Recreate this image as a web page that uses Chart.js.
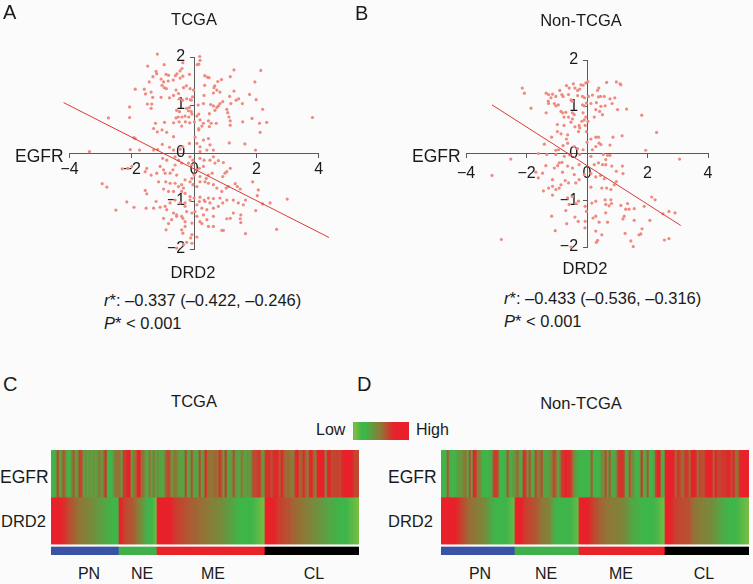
<!DOCTYPE html>
<html>
<head>
<meta charset="utf-8">
<title>DRD2 and EGFR</title>
<script src="https://cdn.jsdelivr.net/npm/chart.js@4"></script>
<style>
html, body { margin: 0; padding: 0; background: #fbfbfb; }
#page { position: relative; width: 753px; height: 584px; overflow: hidden; font-family: "Liberation Sans", Arial, sans-serif; color: #1a1a1a; }
#page canvas { position: absolute; }
.txt { position: absolute; white-space: nowrap; font-size: 16.5px; line-height: 18px; }
</style>
</head>
<body>
<div id="page">
  <canvas id="scatter-tcga" style="left:0;top:0;width:376px;height:280px"></canvas>
  <canvas id="scatter-non" style="left:376px;top:0;width:377px;height:280px"></canvas>
  <canvas id="heat-tcga" style="left:51px;top:450px;width:308px;height:105px"></canvas>
  <canvas id="heat-non" style="left:441px;top:450px;width:308px;height:105px"></canvas>
  <canvas id="heat-legend" style="left:353px;top:422px;width:56px;height:18px"></canvas>
</div>
<script>
// panel A, EGFR (x) and DRD2 (y)
var tcgaEgfr = [-1.18,-0.83,0.18,0.19,0.15,0.10,-0.96,-1.49,-0.36,-0.39,-0.45,-1.22,-1.20,-0.90,-0.82,-0.55,-0.60,-0.15,-1.32,-1.44,-1.06,-0.98,-0.83,-0.67,-0.45,-0.36,0.34,0.43,0.48,1.28,1.16,0.88,0.76,2.14,1.95,0.64,0.66,0.34,-1.89,-1.60,-1.56,-1.38,-1.03,-0.89,-0.96,-0.58,-0.50,-0.34,-0.25,-0.13,-0.02,0.32,0.62,0.73,0.83,1.28,1.14,0.92,0.83,1.78,1.99,-1.33,-1.06,-0.79,-0.66,-0.47,-0.37,-0.24,-0.12,-0.05,-1.50,-1.36,-1.38,-2.07,0.13,0.30,0.53,0.62,0.73,0.67,0.78,0.49,0.15,0.09,1.05,1.18,1.35,1.43,1.55,2.20,1.08,-0.56,-0.47,-0.24,-0.18,-0.09,-0.15,-0.09,-0.51,-0.39,-0.29,-0.17,-0.07,-2.07,-2.75,-0.58,-0.66,-0.48,-0.40,-0.28,-0.14,0.01,0.19,0.30,0.25,0.15,0.15,0.46,0.55,0.49,0.71,1.12,1.16,1.16,1.86,2.10,2.33,3.80,1.56,2.12,-1.24,-0.95,-1.30,-1.18,-1.03,-0.66,0.30,0.46,0.03,-0.88,-1.89,-1.93,1.13,1.63,1.97,-1.02,0.09,-0.15,0.19,0.51,-0.79,-0.66,-0.36,-0.45,-2.05,-1.75,-3.36,-1.30,-1.17,0.19,0.41,0.62,
  0.62,0.78,0.94,-0.61,-0.50,-0.88,-1.01,-0.13,-0.04,0.19,0.32,0.51,0.67,0.30,0.17,0.09,-0.07,-0.18,-0.40,-0.61,-0.68,-0.77,-0.56,-0.98,-0.93,-1.52,-2.31,-2.13,-2.00,-1.57,-1.38,-1.20,-1.09,1.16,1.05,0.99,0.92,0.58,0.46,0.39,0.19,0.00,-0.07,-4.19,-2.95,-2.80,1.88,2.06,2.03,2.44,2.99,2.20,1.65,1.32,1.39,1.48,1.10,1.03,0.89,0.73,0.62,0.46,0.35,0.19,0.09,-0.04,-0.13,-0.29,-0.40,-0.34,-0.50,-0.61,-0.77,-0.91,-1.14,-0.98,-0.82,-0.66,-0.40,-0.29,-0.13,0.00,0.19,0.32,0.46,0.62,0.83,0.51,0.35,0.17,0.09,-0.13,-0.29,-0.45,-0.61,-0.77,-0.93,-1.09,-1.22,-1.30,-1.54,-1.57,-1.52,-2.16,-1.93,-2.51,-0.88,-0.66,-0.56,-0.40,-0.29,-0.24,-0.07,0.03,0.09,0.25,0.41,0.62,0.78,0.92,1.05,1.26,1.42,1.58,1.98,1.16,1.05,1.50,1.48,1.50,2.65,1.65,0.89,0.94,0.62,0.46,0.25,0.41,0.19,-0.07,-0.29,-0.36,-0.56,-0.72,-0.82,-0.98,-0.90,-0.36,-0.07,-0.11,0.09,-0.24,-0.34,-0.56,0.15,0.78,-0.07,-0.40,-0.29,0.62,0.30,1.26];
var tcgaDrd2 = [2.06,2.09,2.01,1.93,1.85,1.84,1.84,1.81,1.88,1.76,1.71,1.70,1.65,1.64,1.62,1.65,1.61,1.64,1.59,1.48,1.54,1.48,1.50,1.52,1.56,1.60,1.61,1.58,1.57,1.73,1.59,1.53,1.49,1.72,1.48,1.36,1.40,1.41,1.33,1.33,1.23,1.27,1.41,1.34,1.36,1.31,1.24,1.36,1.40,1.34,1.31,1.20,1.25,1.31,1.27,1.29,1.18,1.07,1.03,1.22,1.11,1.16,1.16,1.15,1.20,1.13,1.10,1.13,1.11,1.17,1.02,1.02,0.93,0.96,1.00,1.03,1.01,0.98,0.95,0.89,0.98,0.82,0.81,0.77,0.91,1.03,1.10,1.13,1.03,0.91,0.84,0.89,0.86,0.93,0.88,0.86,0.95,1.10,0.75,0.75,0.77,0.75,0.81,0.74,0.73,0.73,0.63,0.65,0.56,0.65,0.63,0.65,0.69,0.62,0.56,0.51,0.48,0.67,0.62,0.55,0.62,0.75,0.67,0.58,0.72,0.62,0.64,0.74,0.65,0.43,0.62,0.64,0.51,0.44,0.48,0.34,0.27,0.30,0.33,0.43,0.30,0.32,0.21,0.19,0.06,0.18,0.20,0.20,0.13,0.17,0.12,0.06,0.13,0.08,0.07,0.06,0.03,0.06,0.07,0.03,0.06,0.06,
  -0.08,-0.16,-0.20,-0.08,-0.15,-0.15,-0.11,-0.08,-0.15,-0.11,-0.15,-0.15,-0.21,-0.28,-0.32,-0.35,-0.25,-0.21,-0.21,-0.25,-0.35,-0.42,-0.46,-0.35,-0.42,-0.32,-0.33,-0.32,-0.28,-0.39,-0.46,-0.42,-0.28,-0.32,-0.39,-0.42,-0.49,-0.42,-0.46,-0.53,-0.49,-0.46,-0.53,-0.51,-0.64,-0.71,-0.60,-0.77,-0.89,-1.04,-0.96,-1.06,-0.98,-0.64,-0.70,-0.75,-0.70,-0.73,-0.80,-0.73,-0.66,-0.63,-0.60,-0.60,-0.70,-0.66,-0.60,-0.56,-0.66,-0.73,-0.70,-0.63,-0.63,-0.60,-0.60,-0.75,-0.80,-0.80,-0.80,-0.84,-0.91,-0.94,-0.92,-0.98,-0.94,-0.95,-0.94,-1.04,-1.01,-1.01,-1.08,-0.98,-1.04,-1.04,-0.98,-1.04,-1.11,-1.13,-1.01,-1.15,-1.15,-0.78,-0.85,-1.02,-1.13,-1.19,-1.18,-1.25,-1.29,-1.32,-1.11,-1.22,-1.25,-1.22,-1.32,-1.15,-1.18,-1.15,-1.11,-1.04,-0.98,-0.98,-1.04,-1.08,-1.20,-1.36,-1.37,-1.29,-1.37,-1.45,-1.59,-1.68,-1.61,-1.61,-1.53,-1.53,-1.47,-1.39,-1.43,-1.46,-1.53,-1.36,-1.32,-1.39,-1.47,-1.36,-1.60,-1.67,-1.70,-1.77,-1.75,-1.86,-1.91,-1.98,-2.19,-2.10,-1.88,-1.60,-1.43,-1.32,-1.29,-1.25];
var tcgaLineX = [-4.19, 4.33];
var tcgaLineY = [1.05, -1.76];

// panel B
var nonEgfr = [-2.14,-2.07,-1.85,-1.35,-1.27,-1.19,-1.28,-1.27,-1.35,-1.14,-1.03,-1.08,-1.03,-0.95,-0.90,-0.83,-0.79,-0.68,-0.59,-0.45,-0.40,-0.31,-0.24,-0.20,-0.13,0.03,-0.04,0.35,0.39,0.65,0.97,1.09,1.12,-0.61,-0.53,-0.48,-0.31,-0.15,-0.08,0.05,0.18,0.38,0.45,0.57,0.76,0.92,0.83,0.31,0.13,-0.09,-0.02,-0.15,0.46,0.60,0.29,0.42,0.51,1.01,1.31,1.81,2.30,-0.86,-0.81,-0.70,-0.48,-0.42,-0.76,-0.61,-0.48,-0.13,-0.04,-0.09,-0.17,0.24,0.03,-0.98,-0.76,-0.53,-0.40,-0.26,-0.06,-0.98,-0.86,-0.28,-0.24,-0.64,-0.68,-1.17,-1.41,-1.03,-0.94,-0.79,-0.64,-0.02,0.29,0.38,0.13,0.00,0.40,0.46,0.86,1.16,0.76,0.29,0.18,-0.13,1.94,-0.42,-0.31,-1.61,-1.33,-2.52,-1.03,-0.75,-0.57,-0.24,0.13,0.54,0.68,0.76,3.06,
  0.62,0.38,0.51,-1.36,-1.08,-0.92,-0.83,-0.97,-0.64,-0.48,-0.26,0.24,0.62,0.82,1.17,0.97,1.19,-1.69,-1.61,-3.14,-1.47,-1.14,-0.81,-0.72,-0.61,-0.42,-0.26,-0.09,0.13,0.29,0.45,0.57,0.97,0.90,0.79,0.65,0.49,0.13,-0.37,-0.86,-0.92,-1.03,-1.14,-1.27,-1.44,-1.14,-0.64,-0.48,-0.28,-0.37,-0.59,-0.70,-0.06,-0.02,0.16,0.29,0.60,0.79,0.62,0.73,0.81,1.12,1.34,1.28,1.39,1.56,1.89,2.14,2.25,2.71,2.91,2.51,1.23,1.19,1.56,2.08,1.82,1.78,1.72,1.26,1.45,1.53,2.56,2.71,-1.17,-1.05,-0.67,-0.40,-0.29,-0.06,-0.07,0.20,0.29,0.40,0.68,0.62,0.29,0.49,0.35,0.31,-0.53,-2.83];
var nonDrd2 = [1.40,1.29,0.97,1.29,1.26,1.19,1.12,1.07,0.87,1.27,1.22,1.07,1.02,1.04,1.35,1.26,1.22,1.45,1.40,1.49,1.40,1.35,1.38,1.47,1.46,1.54,1.51,1.35,1.40,1.52,1.53,1.49,1.47,1.26,1.15,1.12,1.24,1.22,1.19,1.22,1.25,1.21,1.22,1.22,1.17,1.19,1.07,1.09,1.07,1.02,1.08,1.04,1.01,1.02,0.94,0.90,0.83,0.94,0.95,0.82,0.45,0.90,0.87,0.88,0.87,0.83,0.78,0.78,0.74,0.87,0.78,0.72,0.69,0.78,0.69,0.62,0.60,0.67,0.57,0.60,0.60,0.47,0.42,0.47,0.55,0.40,0.31,0.35,0.20,0.07,0.08,0.17,0.22,0.47,0.35,0.35,0.31,0.24,0.22,0.19,0.35,0.38,0.18,0.15,0.08,0.08,0.07,0.15,0.10,0.00,-0.02,-0.12,-0.02,-0.06,-0.03,-0.02,-0.06,-0.02,-0.04,-0.04,-0.12,
  -0.13,-0.20,-0.24,-0.26,-0.31,-0.20,-0.19,-0.26,-0.27,-0.31,-0.24,-0.24,-0.24,-0.27,-0.27,-0.38,-0.43,-0.40,-0.52,-0.47,-0.42,-0.56,-0.40,-0.58,-0.63,-0.45,-0.56,-0.45,-0.43,-0.50,-0.47,-0.54,-0.60,-0.67,-0.77,-0.74,-0.74,-0.72,-0.63,-0.67,-0.74,-0.77,-0.70,-0.74,-0.80,-0.89,-0.95,-0.92,-1.02,-1.07,-1.09,-1.22,-1.13,-1.24,-1.06,-1.02,-0.99,-0.99,-1.09,-1.12,-1.07,-1.11,-1.07,-1.19,-1.19,-1.18,-1.13,-0.93,-0.99,-1.24,-1.27,-1.29,-1.34,-1.40,-1.43,-1.43,-1.61,-1.72,-1.74,-1.71,-1.87,-1.99,-1.85,-1.82,-1.34,-1.65,-1.50,-1.36,-1.45,-1.45,-1.59,-1.38,-1.34,-1.47,-1.47,-1.27,-1.66,-1.74,-1.86,-1.90,-2.00,-1.84];
var nonLineX = [-3.14, 3.10];
var nonLineY = [1.04, -1.54];

var xTickValues = [-4, -2, 0, 2, 4];
var yTickValues = [-2, -1, 0, 1, 2];

// heat values, -1.3 light green .. 0 olive .. 1 red, one list per subtype
var tcgaEgfrPN = [-1,-1,-0.7,0.7,-0.7,-0.3,0.5,-0.3,-1,-1,-0.3,0.5,-0.7,-0.3,0.7,0.5,-0.7,-0.3,-0.7,-0.3,-0.7,-0.3,-0.7,-0.3,0.1,-0.7,0.1,1,-1,-1,-1,-0.3,0.1,0.1];
var tcgaEgfrNE = [0.1,-0.7,0.7,0.7,1,1,-0.7,0.1,0.1,1,1,0.1,0.1,-0.7,-0.7,0.1,-0.7,0.1,-0.7];
var tcgaEgfrME = [-0.3,-0.7,-0.7,-0.7,0.3,0.6,0.5,-0.7,0,0.1,-0.3,-0.7,-0.7,-0.7,0.7,-0.7,-0.7,0.6,-0.7,-0.7,-0.7,0.7,-0.7,-0.3,1,0.1,0.1,0,0.2,0.2,0.1,0.9,0.3,-0.7,0.9,-0.7,-0.7,-0.5,0.6,-0.5,-0.7,-0.7,0.1,-0.5,-0.7,-0.3,-0.7,0.1,0.6,0.5,0.7,0.8,-0.3,-0.5];
var tcgaEgfrCL = [0.8,0.8,0.8,0.4,0.9,0.9,0.9,0.3,1,0.5,0.1,0.2,0.1,-0.1,0,0.9,1,0.2,0.3,0.9,0.3,-0.2,0.9,1,0.2,0,1,1,1,1,-0.5,0.9,1,0.5,0.6,0.6,0.7,0.5,0.8,1,1,1,1,1,0.7,0.5,0.6];
var tcgaDrd2PN = [1,1,1,1,1,0.95,0.85,0.75,0.6,0.5,0.4,0.3,0.2,0.12,0.05,0,-0.05,-0.1,-0.15,-0.2,-0.3,-0.35,-0.4,-0.5,-0.55,-0.6,-0.7,-0.75,-0.85,-0.9,-0.95,-1,-1,-1];
var tcgaDrd2NE = [1,0.9,0.7,0.55,0.5,0.45,0.4,0.3,0.15,0,-0.2,-0.4,-0.6,-0.8,-0.95,-1,-1,-1.1,-1.25];
var tcgaDrd2ME = [1,1,1,1,1,1,1,0.9,0.8,0.7,0.65,0.6,0.55,0.5,0.45,0.4,0.36,0.32,0.28,0.24,0.2,0.16,0.12,0.08,0.04,0,-0.04,-0.08,-0.12,-0.16,-0.2,-0.25,-0.3,-0.38,-0.46,-0.54,-0.62,-0.7,-0.78,-0.86,-0.94,-1,-1,-1,-1,-1,-1,-1,-1.05,-1.1,-1.15,-1.2,-1.25,-1.3];
var tcgaDrd2CL = [1,1,1,1,1,0.9,0.75,0.65,0.6,0.55,0.5,0.45,0.4,0.3,0.25,0.2,0.15,0.1,0.05,0,-0.05,-0.1,-0.15,-0.2,-0.25,-0.3,-0.4,-0.45,-0.5,-0.55,-0.6,-0.7,-0.75,-0.8,-0.85,-0.9,-0.95,-1,-1,-1,-1,-1.05,-1.1,-1.15,-1.2,-1.25,-1.3];

var nonEgfrPN = [-1,-1,-1,0.5,-0.8,-1,-1,-0.9,-0.5,-0.5,-0.5,0,0.1,-1,0.6,-0.8,1,0.8,-0.1,-0.1,-0.8,-1,-1,-1,-0.8,-0.8,0.6,0.7,0.6,-1,-1,-1,-0.9,0.5,-0.8,-0.8,-0.5];
var nonEgfrNE = [-0.2,0.3,-0.7,-0.8,0.9,0.6,-0.6,0.6,-0.8,-0.8,0.6,0,0,0.6,-0.7,-0.7,-0.7,-0.4,-0.2,0.6,0.3,-0.7,-0.4,0.7,0.8,1,0.9,0.9,0.5,-0.2,-0.6,-0.9];
var nonEgfrME = [-1,-1,-1,-1,-1,-0.9,0.5,-1,-1,-1,-0.9,-0.2,-0.4,0.6,-0.7,0.5,-0.8,-0.8,-0.6,0.5,0.8,0.8,0.7,-0.7,-0.8,0.5,-0.3,-0.4,-1,-1,-0.7,0.9,-0.8,-0.8,0.5,-1,-1,-0.9,0.5,1,0.9,-0.8,-0.9];
var nonEgfrCL = [1,1,1,1,1,0.1,0.8,0.7,0.1,0.3,0.8,0.7,0.1,1,1,0.9,0.1,0.6,0.5,0.4,0.9,1,1,1,0.2,1,0.6,0.6,0.7,0.8,0.7,1,0.9,0.4,1,0.1,0.1,0.9,1,1,1,1];
var nonDrd2PN = [1,1,1,1,1,1,1,1,0.85,0.7,0.6,0.5,0.35,0.25,0.15,0.1,0.05,0,-0.05,-0.1,-0.15,-0.25,-0.35,-0.5,-0.65,-0.8,-0.9,-1,-1,-1,-1,-1,-1,-1.05,-1.1,-1.15,-1.2];
var nonDrd2NE = [1,1,1,1,0.8,0.65,0.6,0.55,0.5,0.45,0.4,0.3,0.15,0.05,0,-0.05,-0.1,-0.2,-0.5,-0.8,-0.95,-1,-1,-1,-1,-1,-1,-1,-1.05,-1.1,-1.15,-1.2];
var nonDrd2ME = [1,1,1,1,1,0.85,0.7,0.6,0.5,0.4,0.3,0.22,0.16,0.1,0.06,0.03,0,-0.03,-0.06,-0.1,-0.14,-0.18,-0.22,-0.3,-0.45,-0.6,-0.7,-0.8,-0.85,-0.9,-0.95,-1,-1,-1,-1,-1,-1,-1,-1.05,-1.1,-1.15,-1.2,-1.25];
var nonDrd2CL = [1,1,1,0.9,0.75,0.65,0.6,0.58,0.55,0.52,0.5,0.48,0.45,0.2,0.1,0.05,0,-0.05,-0.08,-0.12,-0.16,-0.2,-0.25,-0.3,-0.38,-0.46,-0.55,-0.65,-0.75,-0.85,-0.9,-0.95,-1,-1,-1,-1,-1.05,-1.1,-1.15,-1.2,-1.25,-1.3];

var subtypes = ['PN', 'NE', 'ME', 'CL'];
var subtypeColors = ['#3a53a4', '#41b14b', '#e8232a', '#000000'];
var legendSteps = [-1.3,-1.3,-1.2,-1.1,-1,-1,-1,-0.85,-0.7,-0.55,-0.4,-0.25,-0.1,0,0.1,0.25,0.4,0.55,0.7,0.85,0.95,1,1,1,1,1,1,1];

var AXIS_COLOR = '#5a5a5a';
var TEXT_COLOR = '#1a1a1a';
var POINT_COLOR = '#ef8a80';
var LINE_COLOR = '#d93c33';
var FONT = '"Liberation Sans", Arial, sans-serif';

function mix(a, b, t) {
    var c = [];
    for (var i = 0; i < 3; i++) {
        c.push(Math.round(a[i] + (b[i] - a[i]) * t));
    }
    return 'rgb(' + c.join(',') + ')';
}

function heatColor(v) {
    if (v < -1) return mix([63, 181, 74], [118, 188, 67], Math.min((-1 - v) / 0.3, 1));
    if (v < 0) return mix([139, 123, 56], [63, 181, 74], -v);
    return mix([139, 123, 56], [232, 33, 42], v);
}

function minusLabel(value) {
    return value < 0 ? '\u2212' + Math.abs(value) : '' + value;
}

function zipPoints(xs, ys) {
    var pts = [];
    for (var i = 0; i < xs.length; i++) {
        pts.push({ x: xs[i], y: ys[i] });
    }
    return pts;
}

function bindScatter(id, xs, ys, lineX, lineY, padding, xLabelPad) {
    var tickFont = { family: FONT, size: 16 };
    new Chart(document.getElementById(id), {
        type: 'scatter',
        data: {
            datasets: [{
                data: zipPoints(xs, ys),
                backgroundColor: POINT_COLOR,
                borderWidth: 0,
                pointRadius: 1.6,
                clip: false,
                order: 2
            }, {
                data: zipPoints(lineX, lineY),
                showLine: true,
                borderColor: LINE_COLOR,
                borderWidth: 1,
                pointRadius: 0,
                clip: false,
                order: 1
            }]
        },
        options: {
            responsive: false,
            animation: false,
            layout: { padding: padding },
            plugins: { legend: { display: false }, tooltip: { enabled: false } },
            scales: {
                x: {
                    type: 'linear',
                    min: -4,
                    max: 4,
                    position: { y: 0 },
                    afterFit: function (scale) { scale.height = 0; },
                    afterBuildTicks: function (scale) {
                        scale.ticks = xTickValues.map(function (v) { return { value: v }; });
                    },
                    border: { color: AXIS_COLOR, width: 1 },
                    grid: { drawOnChartArea: false, drawTicks: true, tickLength: 4, color: AXIS_COLOR },
                    ticks: { color: TEXT_COLOR, font: tickFont, padding: xLabelPad, maxRotation: 0, autoSkip: false, callback: minusLabel }
                },
                y: {
                    type: 'linear',
                    min: -2,
                    max: 2,
                    position: { x: 0 },
                    afterFit: function (scale) { scale.width = 0; },
                    afterBuildTicks: function (scale) {
                        scale.ticks = yTickValues.map(function (v) { return { value: v }; });
                    },
                    border: { color: AXIS_COLOR, width: 1 },
                    grid: { drawOnChartArea: false, drawTicks: true, tickLength: 4, color: AXIS_COLOR },
                    // this axis ignores ticks.padding when it sits on the other scale's zero
                    ticks: { color: TEXT_COLOR, font: tickFont, autoSkip: false, callback: function (v) { return minusLabel(v) + '  '; } }
                }
            }
        }
    });
}

function bindHeat(id, egfrLists, drd2Lists) {
    var egfr = [], drd2 = [], labels = [], classColors = [];
    for (var s = 0; s < subtypes.length; s++) {
        for (var i = 0; i < egfrLists[s].length; i++) {
            labels.push(subtypes[s] + i);
            egfr.push(egfrLists[s][i]);
            drd2.push(drd2Lists[s][i]);
            classColors.push(subtypeColors[s]);
        }
    }
    var barOpts = { borderWidth: 0, barPercentage: 1, categoryPercentage: 1, grouped: false };
    new Chart(document.getElementById(id), {
        type: 'bar',
        data: {
            labels: labels,
            datasets: [
                Object.assign({ data: egfr.map(function () { return [1, 2]; }), backgroundColor: egfr.map(heatColor) }, barOpts),
                Object.assign({ data: drd2.map(function () { return [0, 1]; }), backgroundColor: drd2.map(heatColor) }, barOpts),
                Object.assign({ data: labels.map(function () { return [-0.233, -0.064]; }), backgroundColor: classColors }, barOpts)
            ]
        },
        options: {
            responsive: false,
            animation: false,
            plugins: { legend: { display: false }, tooltip: { enabled: false } },
            scales: {
                x: { display: false },
                y: { display: false, min: -0.233, max: 2 }
            }
        }
    });
}

function bindLegend() {
    new Chart(document.getElementById('heat-legend'), {
        type: 'bar',
        data: {
            labels: legendSteps.map(function (v, i) { return i; }),
            datasets: [{
                data: legendSteps.map(function () { return 1; }),
                backgroundColor: legendSteps.map(heatColor),
                borderWidth: 0,
                barPercentage: 1,
                categoryPercentage: 1
            }]
        },
        options: {
            responsive: false,
            animation: false,
            plugins: { legend: { display: false }, tooltip: { enabled: false } },
            scales: { x: { display: false }, y: { display: false, min: 0, max: 1 } }
        }
    });
}

// anchor: 0 left edge at x, 0.5 centred on x
function addText(html, x, yCenter, anchor, size) {
    var el = document.createElement('div');
    el.className = 'txt';
    el.innerHTML = html;
    el.style.left = x + 'px';
    el.style.top = (yCenter - 9) + 'px';
    if (size) el.style.fontSize = size + 'px';
    el.style.transform = 'translateX(' + (-anchor * 100) + '%)';
    document.getElementById('page').appendChild(el);
}

document.getElementById('scatter-tcga').width = 376;
document.getElementById('scatter-tcga').height = 280;
document.getElementById('scatter-non').width = 377;
document.getElementById('scatter-non').height = 280;
['heat-tcga', 'heat-non'].forEach(function (id) {
    document.getElementById(id).width = 308;
    document.getElementById(id).height = 105;
});
document.getElementById('heat-legend').width = 56;
document.getElementById('heat-legend').height = 18;

bindScatter('scatter-tcga', tcgaEgfr, tcgaDrd2, tcgaLineX, tcgaLineY, { left: 69.5, right: 57.3, top: 57, bottom: 31 }, 3);
bindScatter('scatter-non', nonEgfr, nonDrd2, nonLineX, nonLineY, { left: 90, right: 45, top: 60, bottom: 33 }, 6);
bindHeat('heat-tcga', [tcgaEgfrPN, tcgaEgfrNE, tcgaEgfrME, tcgaEgfrCL], [tcgaDrd2PN, tcgaDrd2NE, tcgaDrd2ME, tcgaDrd2CL]);
bindHeat('heat-non', [nonEgfrPN, nonEgfrNE, nonEgfrME, nonEgfrCL], [nonDrd2PN, nonDrd2NE, nonDrd2ME, nonDrd2CL]);
bindLegend();

addText('A', 3, 12, 0, 20);
addText('B', 355, 13, 0, 20);
addText('C', 3, 384, 0, 20);
addText('D', 357, 384, 0, 20);
addText('TCGA', 194, 19, 0.5);
addText('Non-TCGA', 581, 20, 0.5);
addText('TCGA', 194, 401, 0.5);
addText('Non-TCGA', 581, 403, 0.5);
addText('EGFR', 15, 156, 0, 17.5);
addText('EGFR', 412, 156, 0, 17.5);
addText('DRD2', 193, 272, 0.5);
addText('DRD2', 585, 268, 0.5);
addText('<i>r</i>*: \u20130.337 (\u20130.422, \u20130.246)', 104, 300, 0);
addText('<i>P</i>* &lt; 0.001', 104, 323, 0);
addText('<i>r</i>*: \u20130.433 (\u20130.536, \u20130.316)', 504, 298, 0);
addText('<i>P</i>* &lt; 0.001', 504, 321, 0);
addText('Low', 316, 430, 0, 16);
addText('High', 416, 430, 0, 16);
addText('EGFR', 0, 477, 0, 17.5);
addText('DRD2', 1, 521, 0);
addText('EGFR', 388, 477, 0, 17.5);
addText('DRD2', 388, 521, 0);
var tcgaLabelX = [89, 142, 213, 314];
var nonLabelX = [480, 546, 621, 704];
subtypes.forEach(function (name, i) {
    addText(name, tcgaLabelX[i], 574, 0.5, 16);
    addText(name, nonLabelX[i], 574, 0.5, 16);
});
</script>
</body>
</html>
